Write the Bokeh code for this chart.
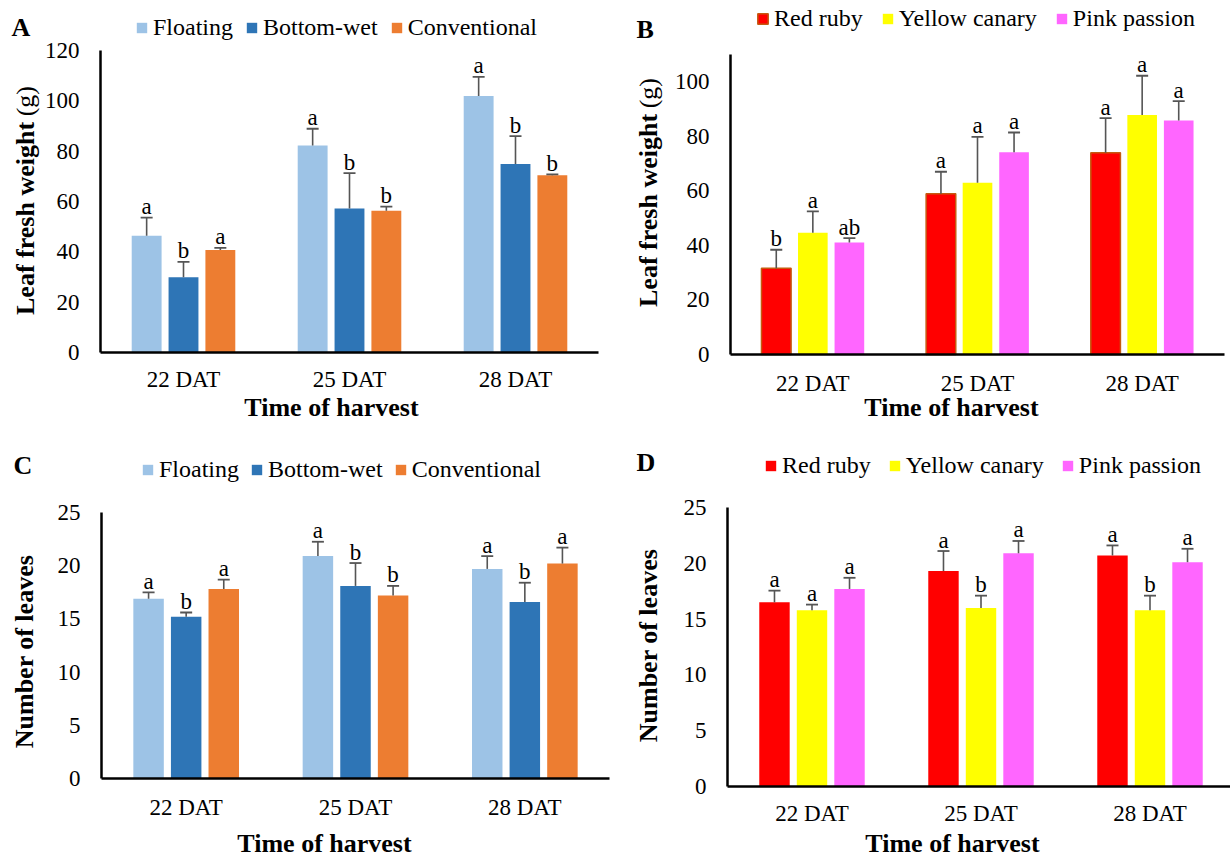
import math
from bokeh.plotting import figure
from bokeh.models import (ColumnDataSource, Range1d, FixedTicker, LinearAxis,
                          Legend, LegendItem, Label)
from bokeh.transform import dodge
from bokeh.layouts import row, column
from bokeh.core.properties import value
from bokeh.embed import file_html
from bokeh.resources import INLINE

# ---------------- data ----------------
times = ["22 DAT", "25 DAT", "28 DAT"]
systems = ["Floating", "Bottom-wet", "Conventional"]
varieties = ["Red ruby", "Yellow canary", "Pink passion"]

# A: leaf fresh weight (g) by growing system
a_floating = [46.4, 82.3, 101.9]
a_floating_err = [7.2, 6.6, 7.6]
a_floating_sig = ["a", "a", "a"]
a_bottomwet = [29.9, 57.2, 74.9]
a_bottomwet_err = [6.1, 14.1, 11.1]
a_bottomwet_sig = ["b", "b", "b"]
a_conventional = [40.7, 56.3, 70.4]
a_conventional_err = [0.9, 1.7, 0.4]
a_conventional_sig = ["a", "b", "b"]

# B: leaf fresh weight (g) by variety
b_red = [31.6, 58.9, 74.0]
b_red_err = [6.8, 8.1, 12.7]
b_red_sig = ["b", "a", "a"]
b_yellow = [44.6, 63.0, 87.8]
b_yellow_err = [7.9, 16.8, 14.4]
b_yellow_sig = ["a", "a", "a"]
b_pink = [41.1, 74.2, 85.8]
b_pink_err = [1.6, 7.2, 7.1]
b_pink_sig = ["ab", "a", "a"]

# C: number of leaves by growing system
c_floating = [16.9, 20.9, 19.7]
c_floating_err = [0.6, 1.35, 1.2]
c_floating_sig = ["a", "a", "a"]
c_bottomwet = [15.2, 18.1, 16.6]
c_bottomwet_err = [0.4, 2.15, 1.8]
c_bottomwet_sig = ["b", "b", "b"]
c_conventional = [17.8, 17.2, 20.2]
c_conventional_err = [0.9, 0.9, 1.5]
c_conventional_sig = ["a", "b", "a"]

# D: number of leaves by variety
d_red = [16.5, 19.3, 20.7]
d_red_err = [1.05, 1.8, 0.9]
d_red_sig = ["a", "a", "a"]
d_yellow = [15.8, 16.0, 15.8]
d_yellow_err = [0.5, 1.1, 1.3]
d_yellow_sig = ["a", "b", "b"]
d_pink = [17.7, 20.9, 20.1]
d_pink_err = [1.0, 1.1, 1.2]
d_pink_sig = ["a", "a", "a"]

fw_ticks = [0, 20, 40, 60, 80, 100, 120]
fw_ticks_b = [0, 20, 40, 60, 80, 100]
leaf_ticks = [0, 5, 10, 15, 20, 25]

# ---------------- style ----------------
SERIF = "Liberation Serif"
SYS_COLORS = ["#9DC3E6", "#2E75B6", "#ED7D31"]
VAR_COLORS = ["#FF0000", "#FFFF00", "#FF66FF"]
ERR = "#555555"
OFFSETS = [-0.222, 0.0, 0.222]
BAR_W = 0.18
LETTER_GAP_PX = 11


def build(ox, oy, fw, fh, fl, ft, fr, fb, ymax, yticks, names, means, errs, sigs,
          colors, outlines, panel_letter, letter_pos, leg_left, leg_cy, leg_spacing,
          ytitle, ytitle_c, xtitle_c, x_standoff):
    # (fl, ft, fr, fb): plot area in page pixels; figure spans (ox, oy, fw, fh)
    ppu = (fb - ft) / ymax

    def xd(px):
        return (px - fl) / (fr - fl) * len(times)

    def yd(py):
        return (fb - py) / ppu

    p = figure(width=fw, height=fh,
               x_range=Range1d(xd(ox), xd(ox + fw)),
               y_range=Range1d(yd(oy + fh), yd(oy)),
               x_axis_type=None, y_axis_type=None,
               min_border_left=0, min_border_right=0, min_border_top=0, min_border_bottom=0,
               toolbar_location=None, output_backend="svg", tools="")
    p.outline_line_color = None
    p.background_fill_color = "white"
    p.border_fill_color = "white"

    centers = [i + 0.5 for i in range(len(times))]

    rends = []
    for i, name in enumerate(names):
        upper = [m + e for m, e in zip(means[i], errs[i])]
        lab_y = [u + LETTER_GAP_PX / ppu for u in upper]
        src = ColumnDataSource(dict(x=centers, top=means[i], upper=upper,
                                    lab_y=lab_y, lab=sigs[i]))

        def xs():
            return dodge("x", OFFSETS[i])

        if outlines[i]:
            r = p.vbar(x=xs(), top="top", bottom=0, width=BAR_W, source=src,
                       fill_color=colors[i], line_color=outlines[i], line_width=1.5)
        else:
            r = p.vbar(x=xs(), top="top", bottom=0, width=BAR_W, source=src,
                       fill_color=colors[i], line_color=None)
        p.segment(x0=xs(), y0="top", x1=xs(), y1="upper", source=src,
                  line_color=ERR, line_width=1.6)
        p.scatter(x=xs(), y="upper", marker="dash", size=12, source=src,
                  line_color=ERR, line_width=1.8)
        p.text(x=xs(), y="lab_y", text="lab", source=src, text_align="center",
               text_baseline="alphabetic",
               text_font=value(SERIF), text_font_size="23px", text_color="black")
        rends.append(r)

    # axes drawn at the plot-area edges
    yax = LinearAxis(fixed_location=0, bounds=(0, yd(ft)),
                     ticker=FixedTicker(ticks=yticks))
    xax = LinearAxis(fixed_location=0, bounds=(0, len(times)),
                     ticker=FixedTicker(ticks=centers),
                     major_label_overrides={c: t for c, t in zip(centers, times)})
    for ax in (xax, yax):
        ax.axis_line_width = 2.5
        ax.axis_line_color = "black"
        ax.major_tick_line_color = None
        ax.minor_tick_line_color = None
        ax.major_label_text_font = SERIF
        ax.major_label_text_font_size = "23px"
        ax.major_label_text_color = "black"
    yax.major_label_standoff = 15
    xax.major_label_standoff = x_standoff
    p.add_layout(yax, "left")
    p.add_layout(xax, "below")

    leg_h = 27
    legend = Legend(items=[LegendItem(label=n, renderers=[r]) for n, r in zip(names, rends)],
                    orientation="horizontal",
                    location=(leg_left - ox, (oy + fh) - (leg_cy + leg_h / 2)),
                    padding=0, margin=0, spacing=leg_spacing,
                    glyph_width=13, glyph_height=13, label_standoff=5,
                    label_text_font=SERIF, label_text_font_size="24px",
                    label_text_color="black",
                    border_line_color=None, background_fill_alpha=0)
    p.add_layout(legend)

    p.add_layout(Label(x=xd(letter_pos[0]), y=yd(letter_pos[1]), text=panel_letter,
                       text_font=SERIF, text_font_size="26px", text_font_style="bold",
                       text_align="left", text_baseline="middle", text_color="black"))

    cx, cy = ytitle_c
    if isinstance(ytitle, tuple):
        p.add_layout(Label(x=xd(cx), y=yd(cy + 114.5), text=ytitle[0], angle=math.pi / 2,
                           text_font=SERIF, text_font_size="26px", text_font_style="bold",
                           text_align="left", text_baseline="middle", text_color="black"))
        p.add_layout(Label(x=xd(cx), y=yd(cy - 114.5), text=ytitle[1], angle=math.pi / 2,
                           text_font=SERIF, text_font_size="26px",
                           text_align="right", text_baseline="middle", text_color="black"))
    else:
        p.add_layout(Label(x=xd(cx), y=yd(cy), text=ytitle, angle=math.pi / 2,
                           text_font=SERIF, text_font_size="26px", text_font_style="bold",
                           text_align="center", text_baseline="middle", text_color="black"))

    p.add_layout(Label(x=xd(xtitle_c[0]), y=yd(xtitle_c[1]), text="Time of harvest",
                       text_font=SERIF, text_font_size="26px", text_font_style="bold",
                       text_align="center", text_baseline="middle", text_color="black"))
    return p


pA = build(0, 0, 610, 425, 100, 50, 598, 352, 120, fw_ticks, systems,
           [a_floating, a_bottomwet, a_conventional],
           [a_floating_err, a_bottomwet_err, a_conventional_err],
           [a_floating_sig, a_bottomwet_sig, a_conventional_sig],
           SYS_COLORS, [None, None, None], "A", (11, 27), 135, 27, 12,
           ("Leaf fresh weight", "(g)"), (25, 200), (331, 407), 8)

pB = build(610, 0, 620, 425, 730, 54, 1224, 354, 110, fw_ticks_b, varieties,
           [b_red, b_yellow, b_pink],
           [b_red_err, b_yellow_err, b_pink_err],
           [b_red_sig, b_yellow_sig, b_pink_sig],
           VAR_COLORS, ["#C55A11", None, None], "B", (636, 29), 756, 18, 18,
           ("Leaf fresh weight", "(g)"), (648, 192), (951, 407), 10)

pC = build(0, 425, 610, 432, 101, 512, 609, 778, 25, leaf_ticks, systems,
           [c_floating, c_bottomwet, c_conventional],
           [c_floating_err, c_bottomwet_err, c_conventional_err],
           [c_floating_sig, c_bottomwet_sig, c_conventional_sig],
           SYS_COLORS, [None, None, None], "C", (13, 465), 141, 469, 11,
           "Number of leaves", (24, 651), (324, 843), 10)

pD = build(610, 425, 620, 432, 727, 507, 1234, 786, 25, leaf_ticks, varieties,
           [d_red, d_yellow, d_pink],
           [d_red_err, d_yellow_err, d_pink_err],
           [d_red_sig, d_yellow_sig, d_pink_sig],
           VAR_COLORS, [None, None, None], "D", (636, 462), 764, 465, 17,
           "Number of leaves", (648, 645), (952, 843), 8)

layout = column(row(pA, pB), row(pC, pD))

with open("out.html", "w") as f:
    f.write(file_html(layout, INLINE))
